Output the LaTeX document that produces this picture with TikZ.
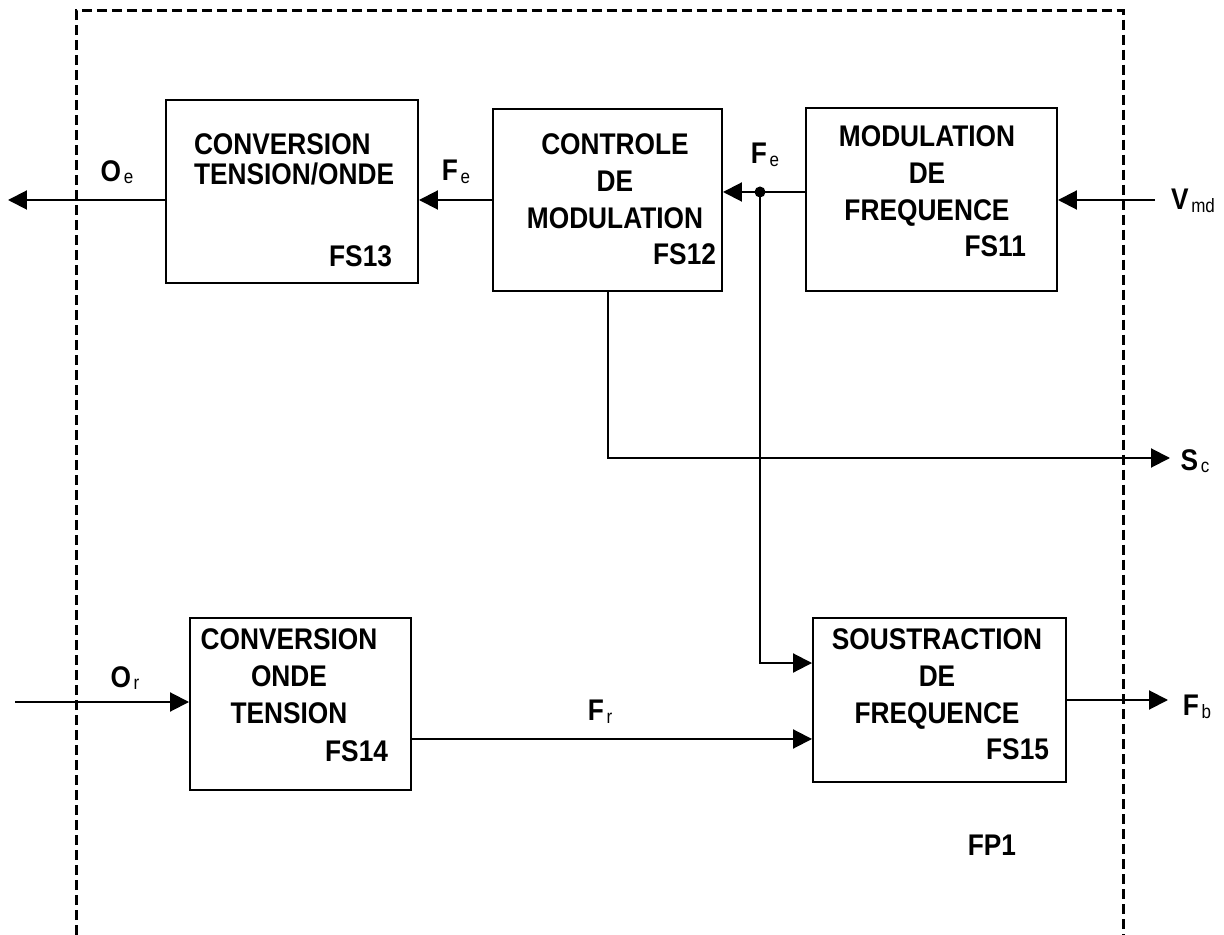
\documentclass[tikz,border=0pt]{standalone}
\usepackage{fontspec}
\setmainfont{Liberation Sans}[FakeStretch=0.88]
\usetikzlibrary{arrows.meta}

\newcommand{\sig}[2]{\textbf{#1}\kern1.5pt\raisebox{-1.5pt}{\fontsize{11pt}{11pt}\selectfont\mdseries #2}}

\begin{document}
\begin{tikzpicture}[x=0.02cm, y=-0.02cm, line width=0.04cm,
  blk/.style={draw, rectangle, inner sep=0pt},
  txt/.style={inner sep=0pt, font=\fontsize{17pt}{20.9pt}\selectfont\bfseries, align=center},
  lbl/.style={inner sep=0pt, font=\fontsize{17pt}{20pt}\selectfont},
  sig/.style={-{Triangle[length=0.38cm, width=0.38cm]}},
  frame/.style={line width=0.06cm, dash pattern=on 0.2cm off 0.1cm}]

\useasboundingbox (0,0) rectangle (1224,935);

% FP1 frame
\draw[frame] (76,935) -- (76,11) -- (1123,11) -- (1123,935);

% function blocks
\node[blk, minimum width=5.04cm, minimum height=3.66cm] (fs13) at (292,191.5) {};
\node[blk, minimum width=4.58cm, minimum height=3.64cm] (fs12) at (607.5,200) {};
\node[blk, minimum width=5.02cm, minimum height=3.66cm] (fs11) at (931.5,199.5) {};
\node[blk, minimum width=4.42cm, minimum height=3.44cm] (fs14) at (300.5,704) {};
\node[blk, minimum width=5.06cm, minimum height=3.28cm] (fs15) at (939.5,700) {};

\node[txt, align=left, anchor=north west, font=\fontsize{17pt}{17.1pt}\selectfont\bfseries] (t13) at (193,133) {CONVERSION\\TENSION/ONDE};
\node[txt, anchor=north] (t12) at (615,133) {CONTROLE\\DE\\MODULATION};
\node[txt, anchor=north] (t11) at (927,125) {MODULATION\\DE\\FREQUENCE};
\node[txt, anchor=north] (t14) at (289,628) {CONVERSION\\ONDE\\TENSION};
\node[txt, anchor=north] (t15) at (937,628) {SOUSTRACTION\\DE\\FREQUENCE};

\node[txt, anchor=base east] (n13) at (393,267) {FS13};
\node[txt, anchor=base east] (n12) at (717,265) {FS12};
\node[txt, anchor=base east] (n11) at (1027,257) {FS11};
\node[txt, anchor=base east] (n14) at (389,761) {FS14};
\node[txt, anchor=base east] (n15) at (1050,759) {FS15};
\node[txt] (fp1) at (992,845) {FP1};

% free ends
\coordinate (oe) at (8,200);
\coordinate (vmd) at (1155,200);
\coordinate (sc) at (1170,458);
\coordinate (or) at (15,702);
\coordinate (fb) at (1168,700);
\coordinate (dot) at (760,192);
\coordinate (in1) at ([yshift=0.74cm]fs15.west);
\coordinate (in2) at ([yshift=-0.78cm]fs15.west);

% signals
\draw[sig] (fs13.west |- oe) -- (oe);
\draw[sig] (fs12.west) -- (fs12.west -| fs13.east);
\draw[sig] (fs11.west |- dot) -- (dot) -- (fs12.east |- dot);
\draw[sig] (vmd) -- (vmd -| fs11.east);
\draw[sig] (fs12.south) |- (sc);
\draw[sig] (dot) |- (in1);
\draw[sig] (fs14.east |- in2) -- (in2);
\draw[sig] (or) -- (or -| fs14.west);
\draw[sig] (fs15.east) -- (fb);
\fill (dot) circle[radius=0.11cm];

\node[lbl] (l-oe) at (117,172) {\sig{O}{e}};
\node[lbl] (l-fe1) at (456,172) {\sig{F}{e}};
\node[lbl] (l-fe2) at (765,155) {\sig{F}{e}};
\node[lbl] (l-vmd) at (1193,201) {\sig{V}{md}};
\node[lbl] (l-sc) at (1195,461) {\sig{S}{c}};
\node[lbl] (l-or) at (125,678) {\sig{O}{r}};
\node[lbl] (l-fr) at (600,712) {\sig{F}{r}};
\node[lbl] (l-fb) at (1197,707) {\sig{F}{b}};

\end{tikzpicture}
\end{document}
